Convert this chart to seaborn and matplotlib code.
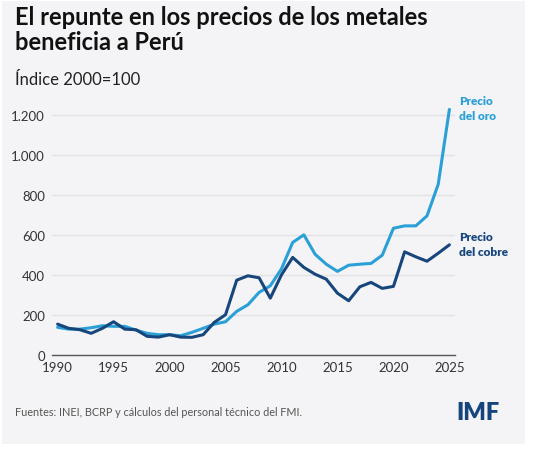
import matplotlib
matplotlib.use("Agg")
import matplotlib.pyplot as plt
import matplotlib.ticker as mticker
from matplotlib.patches import Rectangle
import seaborn as sns
import pandas as pd

years = list(range(1990, 2026))
oro = [137, 128, 128, 135, 145, 142, 142, 123, 107, 100, 100, 95, 112, 132, 153, 165,
       217, 250, 312, 345, 430, 562, 600, 503, 453, 417, 448, 453, 457, 498, 633, 645,
       645, 695, 853, 1228]
cobre = [153, 132, 125, 107, 132, 165, 128, 125, 92, 88, 100, 88, 87, 100, 162, 200,
         373, 395, 385, 283, 400, 487, 437, 403, 378, 308, 270, 340, 362, 332, 342, 515,
         490, 468, 508, 550]
series_names = ["Precio del oro", "Precio del cobre"]
label_texts = ["Precio\ndel oro", "Precio\ndel cobre"]
yticks = [0, 200, 400, 600, 800, 1000, 1200]
xticks = [1990, 1995, 2000, 2005, 2010, 2015, 2020, 2025]

title = "El repunte en los precios de los metales\nbeneficia a Perú"
subtitle = "Índice 2000=100"
source = "Fuentes: INEI, BCRP y cálculos del personal técnico del FMI."

c_oro = "#2aa0d6"
c_cobre = "#17467c"
bg = "#f4f4f6"

df = pd.DataFrame({
    "year": years * 2,
    "value": oro + cobre,
    "serie": [series_names[0]] * len(years) + [series_names[1]] * len(years),
})

sns.set_theme(style="white")
plt.rcParams["font.family"] = ["Lato", "DejaVu Sans"]

fig = plt.figure(figsize=(5.4, 4.6), dpi=100, facecolor="white")
fig.patches.append(Rectangle((2 / 540, 1 - 445 / 460), 523 / 540, 443 / 460,
                             transform=fig.transFigure, facecolor=bg,
                             edgecolor="none", zorder=-10))

ax = fig.add_axes([52 / 540, 1 - 355.7 / 460, (455 - 52) / 540, (355.7 - 109) / 460])
ax.set_zorder(1)
ax.patch.set_alpha(0)

sns.lineplot(data=df, x="year", y="value", hue="serie",
             palette={series_names[0]: c_oro, series_names[1]: c_cobre},
             linewidth=2.2, legend=False, ax=ax)

ax.set_xlim(1989.5, 2025.5)
ax.set_ylim(0, 1235)
ax.set_yticks(yticks)
ax.set_xticks(xticks)
ax.yaxis.set_major_formatter(mticker.FuncFormatter(lambda v, p: f"{int(v):,}".replace(",", ".")))
ax.grid(axis="y", color="#e2e2e6", linewidth=1.0)
ax.set_axisbelow(True)
for s in ["top", "right", "left"]:
    ax.spines[s].set_visible(False)
ax.spines["bottom"].set_color("#555555")
ax.spines["bottom"].set_linewidth(1.0)
ax.tick_params(axis="x", direction="inout", length=5, color="#555555", labelsize=9.5,
               labelcolor="#333333", pad=2)
ax.tick_params(axis="y", length=0, labelsize=9.5, labelcolor="#333333", pad=5)
ax.set_xlabel("")
ax.set_ylabel("")

ax.text(2025.85, 1300, label_texts[0], color=c_oro, fontsize=8.5,
        fontweight="heavy", va="top", ha="left", linespacing=1.45, clip_on=False)
ax.text(2025.85, 619, label_texts[1], color=c_cobre, fontsize=8.5,
        fontweight="heavy", va="top", ha="left", linespacing=1.45, clip_on=False)

fig.text(15 / 540, 1 - 6 / 460, title, fontsize=17, fontweight="bold", color="#111111",
         va="top", ha="left", linespacing=1.1)
fig.text(15 / 540, 1 - 80 / 460, subtitle, fontsize=12, color="#222222",
         va="center", ha="left")
fig.text(15 / 540, 1 - 413 / 460, source, fontsize=7.8, color="#555555",
         va="center", ha="left")
fig.text(500 / 540, 1 - 413 / 460, "IMF", fontsize=17, fontweight="heavy", color="#16457d",
         va="center", ha="right")

fig.savefig("out.png", dpi=100, facecolor="white")
